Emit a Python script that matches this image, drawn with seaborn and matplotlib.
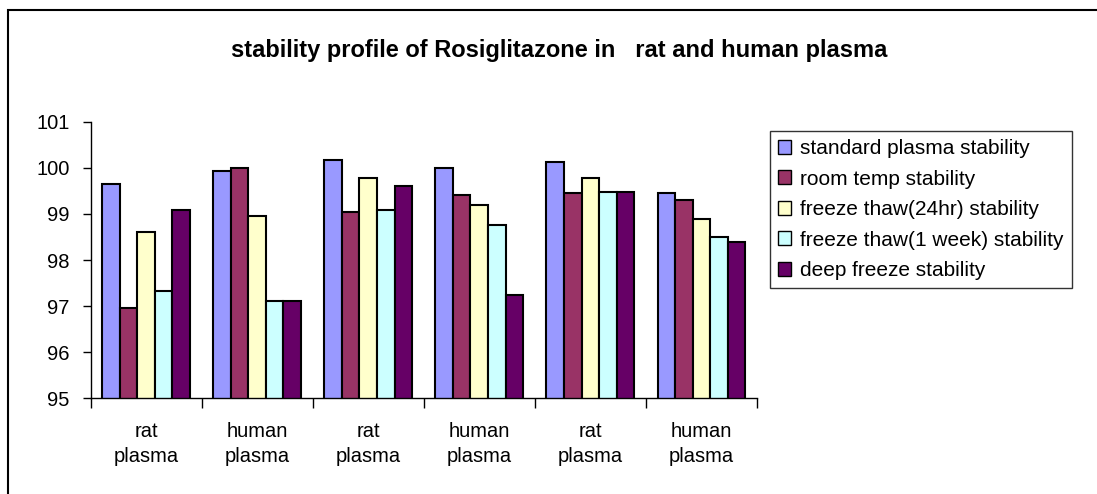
import pandas as pd
import matplotlib.pyplot as plt
import matplotlib.patches as mpatches
import seaborn as sns

# sample groups (x axis) and the five stability tests (hue)
groups = ['rat\nplasma', 'human\nplasma', 'rat\nplasma', 'human\nplasma', 'rat\nplasma', 'human\nplasma']
tests = ['standard plasma stability', 'room temp stability', 'freeze thaw(24hr) stability',
         'freeze thaw(1 week) stability', 'deep freeze stability']

standard = [99.64, 99.93, 100.17, 100.00, 100.13, 99.45]
room_temp = [96.96, 100.00, 99.04, 99.40, 99.45, 99.30]
freeze_24hr = [98.60, 98.96, 99.77, 99.20, 99.77, 98.89]
freeze_1week = [97.32, 97.12, 99.09, 98.76, 99.48, 98.49]
deep_freeze = [99.09, 97.12, 99.61, 97.25, 99.48, 98.40]

colors = ['#9999FF', '#993366', '#FFFFCC', '#CCFFFF', '#660066']

series = [standard, room_temp, freeze_24hr, freeze_1week, deep_freeze]
rows = []
for t, vals in zip(tests, series):
    for i, v in enumerate(vals):
        rows.append({'group': i, 'test': t, 'value': v})
df = pd.DataFrame(rows)

sns.set_style('white')
plt.rcParams['font.family'] = ['Liberation Sans', 'DejaVu Sans']
plt.rcParams['text.color'] = 'black'
plt.rcParams['xtick.color'] = 'black'
plt.rcParams['ytick.color'] = 'black'

fig = plt.figure(figsize=(10.97, 4.94), dpi=100)
ax = fig.add_axes([0.0825, 0.1937, 0.6075, 0.5599])

sns.barplot(data=df, x='group', y='value', hue='test', hue_order=tests,
            palette=colors, saturation=1, width=0.79, edgecolor='black',
            linewidth=1.5, ax=ax, legend=True)

ax.set_ylim(95, 101)
ax.set_xlim(-0.5, 5.5)
ax.set_yticks(range(95, 102))
ax.tick_params(axis='y', direction='out', length=6, width=1, color='black',
               labelsize=14.5, pad=9, left=True)

# ticks at the category boundaries, labels centred under groups
ax.set_xticks([i - 0.5 for i in range(7)])
ax.set_xticklabels([])
ax.set_xticks(range(6), minor=True)
ax.set_xticklabels(groups, minor=True, fontsize=14.5, linespacing=1.4)
ax.tick_params(axis='x', which='major', direction='out', length=7, width=1,
               color='black', bottom=True)
ax.tick_params(axis='x', which='minor', length=0, pad=17)
ax.set_xlabel('')
ax.set_ylabel('')

for s in ['top', 'right']:
    ax.spines[s].set_visible(False)
for s in ['left', 'bottom']:
    ax.spines[s].set_color('black')
    ax.spines[s].set_linewidth(1)

fig.text(0.51, 0.897, 'stability profile of Rosiglitazone in   rat and human plasma',
         ha='center', va='center', fontsize=17, fontweight='bold')

leg = ax.legend(loc='upper left', bbox_to_anchor=(0.7015, 0.735),
                bbox_transform=fig.transFigure, frameon=True, fancybox=False,
                fontsize=15, handlelength=0.65, handleheight=0.65,
                handletextpad=0.4, labelspacing=0.55, borderpad=0.4,
                borderaxespad=0)
leg.get_frame().set_edgecolor('black')
leg.get_frame().set_linewidth(1)
for h in leg.legend_handles:
    h.set_edgecolor('black')
    h.set_linewidth(1)

# outer chart frame
fig.patches.append(mpatches.Rectangle((8 / 1097, -0.1), 1.2, 1.1 - 10 / 494,
                                      transform=fig.transFigure, fill=False,
                                      edgecolor='black', linewidth=1.5))

fig.savefig('out.png', dpi=100)
